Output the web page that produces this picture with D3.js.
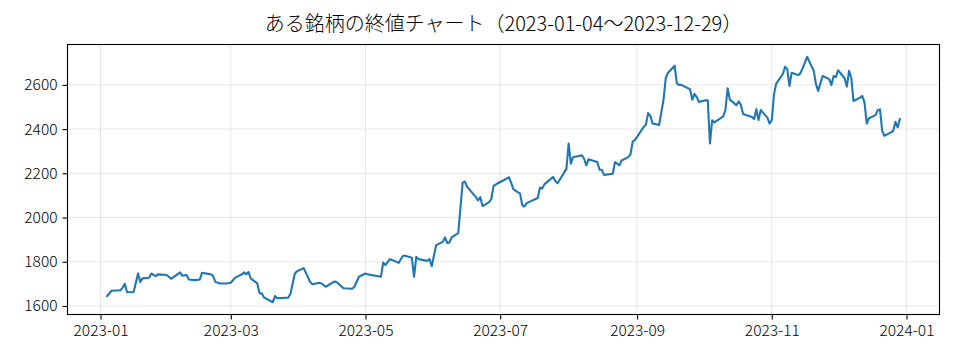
<!DOCTYPE html>
<html><head><meta charset="utf-8">
<script src="https://cdn.jsdelivr.net/npm/d3@7"></script>
<style>
html,body{margin:0;padding:0;background:#fff;}
svg{display:block;}
text{font-family:"Noto Sans CJK JP","Noto Sans",sans-serif;fill:#000;}
</style></head>
<body>
<svg id="chart" width="960" height="360"></svg>
<script>
const titleText = "ある銘柄の終値チャート（2023-01-04〜2023-12-29）";
const dates = [
"2023-01-04","2023-01-06","2023-01-10","2023-01-11","2023-01-12","2023-01-13","2023-01-16","2023-01-18","2023-01-19","2023-01-20","2023-01-23","2023-01-24","2023-01-26","2023-01-27","2023-01-31",
"2023-02-02","2023-02-06","2023-02-07","2023-02-09","2023-02-10","2023-02-13","2023-02-15","2023-02-16","2023-02-20","2023-02-21","2023-02-22","2023-02-24","2023-02-27",
"2023-03-01","2023-03-03","2023-03-06","2023-03-07","2023-03-08","2023-03-09","2023-03-10","2023-03-13","2023-03-14","2023-03-15","2023-03-16","2023-03-20","2023-03-21","2023-03-22","2023-03-27","2023-03-28","2023-03-30","2023-03-31",
"2023-04-03","2023-04-06","2023-04-07","2023-04-10","2023-04-11","2023-04-13","2023-04-17","2023-04-18","2023-04-21","2023-04-25","2023-04-26","2023-04-28",
"2023-05-01","2023-05-02","2023-05-08","2023-05-09","2023-05-10","2023-05-12","2023-05-15","2023-05-16","2023-05-18","2023-05-19","2023-05-22","2023-05-23","2023-05-24","2023-05-25","2023-05-29","2023-05-30","2023-05-31",
"2023-06-02","2023-06-05","2023-06-06","2023-06-07","2023-06-08","2023-06-09","2023-06-12","2023-06-14","2023-06-15","2023-06-16","2023-06-20","2023-06-21","2023-06-22","2023-06-23","2023-06-26","2023-06-27","2023-06-28","2023-06-30",
"2023-07-03","2023-07-05","2023-07-06","2023-07-07","2023-07-10","2023-07-11","2023-07-12","2023-07-13","2023-07-18","2023-07-19","2023-07-20","2023-07-21","2023-07-25","2023-07-26","2023-07-27","2023-07-31",
"2023-08-01","2023-08-02","2023-08-03","2023-08-04","2023-08-07","2023-08-08","2023-08-09","2023-08-10","2023-08-14","2023-08-15","2023-08-16","2023-08-17","2023-08-21","2023-08-22","2023-08-24","2023-08-25","2023-08-28","2023-08-29","2023-08-30","2023-08-31",
"2023-09-04","2023-09-05","2023-09-06","2023-09-07","2023-09-08","2023-09-11","2023-09-13","2023-09-14","2023-09-15","2023-09-18","2023-09-19","2023-09-20","2023-09-21","2023-09-25","2023-09-26","2023-09-27","2023-09-28","2023-09-29",
"2023-10-02","2023-10-03","2023-10-04","2023-10-05","2023-10-06","2023-10-10","2023-10-11","2023-10-12","2023-10-13","2023-10-16","2023-10-17","2023-10-18","2023-10-19","2023-10-23","2023-10-24","2023-10-25","2023-10-26","2023-10-27","2023-10-30","2023-10-31",
"2023-11-01","2023-11-02","2023-11-03","2023-11-06","2023-11-07","2023-11-08","2023-11-09","2023-11-10","2023-11-13","2023-11-14","2023-11-15","2023-11-17","2023-11-20","2023-11-21","2023-11-22","2023-11-24","2023-11-27","2023-11-28","2023-11-29","2023-11-30",
"2023-12-01","2023-12-04","2023-12-05","2023-12-06","2023-12-07","2023-12-08","2023-12-11","2023-12-12","2023-12-13","2023-12-14","2023-12-15","2023-12-18","2023-12-19","2023-12-20","2023-12-21","2023-12-22","2023-12-25","2023-12-26","2023-12-27","2023-12-28","2023-12-29"
];
const closes = [
1645,1669,1671,1682,1700,1662,1663,1747,1709,1725,1728,1747,1735,1743,1740,
1723,1752,1737,1740,1720,1717,1720,1750,1743,1735,1709,1702,1702,
1705,1728,1743,1752,1743,1754,1725,1702,1657,1657,1639,1617,1645,1635,1638,1654,1747,1757,
1771,1707,1698,1705,1702,1687,1711,1707,1680,1678,1687,1732,
1747,1743,1732,1796,1785,1812,1800,1795,1827,1827,1818,1732,1822,1812,1804,1812,1780,
1875,1890,1910,1885,1887,1910,1930,2158,2163,2140,2092,2077,2092,2052,2070,2085,2143,2155,
2171,2182,2157,2127,2108,2055,2050,2065,2088,2135,2131,2150,2184,2164,2155,2220,
2335,2244,2273,2275,2281,2266,2236,2263,2251,2216,2216,2193,2198,2251,2236,2258,2273,2285,2343,2350,
2410,2420,2472,2460,2425,2419,2535,2632,2655,2686,2606,2600,2600,2580,2533,2559,2545,2523,
2530,2530,2335,2440,2430,2457,2486,2584,2533,2508,2525,2510,2468,2455,2445,2490,2441,2486,2452,2425,
2441,2557,2606,2649,2682,2671,2595,2655,2644,2653,2676,2727,2663,2603,2573,2640,2626,2599,2640,2635,
2666,2630,2592,2663,2632,2527,2542,2550,2520,2425,2449,2463,2486,2489,2392,2370,2385,2392,2433,2408,2445
];
const yTicks = [1600, 1800, 2000, 2200, 2400, 2600];
const xTickLabels = ["2023-01","2023-03","2023-05","2023-07","2023-09","2023-11","2024-01"];

const parse = d3.timeParse("%Y-%m-%d");
const parseMonth = d3.timeParse("%Y-%m");
const data = dates.map((d, i) => ({date: parse(d), close: closes[i]}));

const svg = d3.select("#chart");
const m = {left: 67.5, right: 939.5, top: 44.5, bottom: 314.5};

const xExt = d3.extent(data, d => d.date);
const xPad = (xExt[1] - xExt[0]) * 0.05;
const x = d3.scaleTime()
  .domain([new Date(+xExt[0] - xPad), new Date(+xExt[1] + xPad)])
  .range([m.left, m.right]);
const yExt = d3.extent(data, d => d.close);
const yPad = (yExt[1] - yExt[0]) * 0.05;
const y = d3.scaleLinear()
  .domain([yExt[0] - yPad, yExt[1] + yPad])
  .range([m.bottom, m.top]);

const xTickDates = xTickLabels.map(parseMonth);

// grid
const grid = svg.append("g");
grid.selectAll("line.gx").data(xTickDates).join("line")
  .attr("x1", d => x(d)).attr("x2", d => x(d))
  .attr("y1", m.top).attr("y2", m.bottom)
  .attr("stroke", "#b0b0b0").attr("stroke-opacity", 0.3).attr("stroke-width", 1);
grid.selectAll("line.gy").data(yTicks).join("line")
  .attr("x1", m.left).attr("x2", m.right)
  .attr("y1", d => y(d)).attr("y2", d => y(d))
  .attr("stroke", "#b0b0b0").attr("stroke-opacity", 0.3).attr("stroke-width", 1);

// line
const line = d3.line().x(d => x(d.date)).y(d => y(d.close));
svg.append("path").datum(data)
  .attr("d", line)
  .attr("fill", "none")
  .attr("stroke", "#1f77b4")
  .attr("stroke-width", 2.1)
  .attr("stroke-linejoin", "round")
  .attr("stroke-linecap", "square");

// axes
const xAxis = d3.axisBottom(x).tickValues(xTickDates).tickFormat(d3.timeFormat("%Y-%m"))
  .tickSize(5).tickPadding(5);
const yAxis = d3.axisLeft(y).tickValues(yTicks).tickFormat(d3.format("d"))
  .tickSize(5).tickPadding(5);

const gx = svg.append("g").attr("transform", `translate(0,${m.bottom})`).call(xAxis);
const gy = svg.append("g").attr("transform", `translate(${m.left},0)`).call(yAxis);
[gx, gy].forEach(g => {
  g.select(".domain").remove();
  g.selectAll(".tick line").attr("stroke", "#000").attr("stroke-width", 1.1);
  g.selectAll(".tick text").attr("fill", "#000").style("font-size", "15.5px")
    .style("font-weight", "300")
    .style("font-family", '"Noto Sans CJK JP","Noto Sans",sans-serif');
});

// frame
svg.append("rect")
  .attr("x", m.left).attr("y", m.top)
  .attr("width", m.right - m.left).attr("height", m.bottom - m.top)
  .attr("fill", "none").attr("stroke", "#000").attr("stroke-width", 1.1);

// title
svg.append("text")
  .attr("x", (m.left + m.right) / 2).attr("y", 31)
  .attr("text-anchor", "middle")
  .attr("fill", "#000")
  .style("font-size", "20px")
  .style("font-weight", "300")
  .text(titleText);
</script>
</body></html>
